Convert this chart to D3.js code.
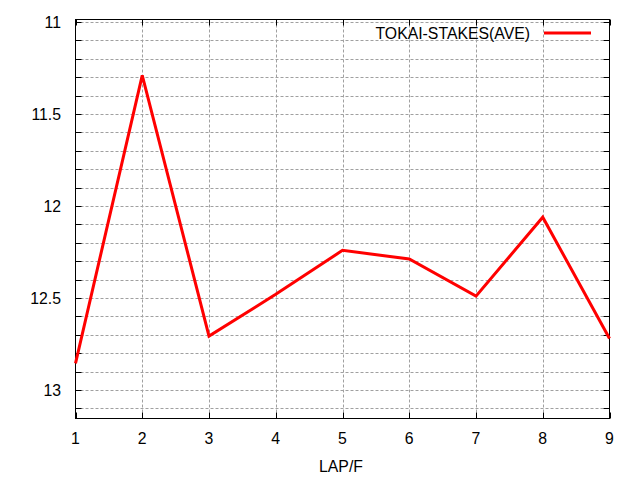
<!DOCTYPE html>
<html><head><meta charset="utf-8">
<script src="https://cdn.jsdelivr.net/npm/d3@7"></script>
<style>body{margin:0;background:#fff}svg{display:block}text{font-family:"Liberation Sans",Arial,sans-serif}</style>
</head><body><svg id="c" width="640" height="480"></svg>
<script>
const laps = [1,2,3,4,5,6,7,8,9];
const values = [12.855,11.29,12.707,12.48,12.241,12.288,12.49,12.061,12.72];
const seriesName = "TOKAI-STAKES(AVE)";
const xTicks = [1,2,3,4,5,6,7,8,9];
const yGrid = d3.range(110,132).map(v=>v/10);
const yLabels = [11,11.5,12,12.5,13];
const xTitle = "LAP/F";

const svg = d3.select("#c");
const L=75.5,R=609.5,T=19.5,B=418.5;
const x = d3.scaleLinear().domain([1,9]).range([L,R]);
const y = d3.scaleLinear().domain([11,13]).range([22,390]);
const fs = "15.8px";

// grid
const g = svg.append("g");
g.selectAll(".hg").data(yGrid.filter(v=>y(v)>T+1&&y(v)<B-1)).join("line")
 .attr("x1",L).attr("x2",R).attr("y1",d=>Math.round(y(d))+0.5).attr("y2",d=>Math.round(y(d))+0.5)
 .attr("stroke","#a0a0a0").attr("stroke-dasharray","3,2");
g.selectAll(".vg").data(xTicks.slice(1,-1)).join("line")
 .attr("x1",d=>Math.round(x(d))+0.5).attr("x2",d=>Math.round(x(d))+0.5).attr("y1",T).attr("y2",B)
 .attr("stroke","#a0a0a0").attr("stroke-dasharray","3,2");

// ticks
const tk = svg.append("g").attr("stroke","#000");
yGrid.filter(v=>y(v)>T+1&&y(v)<B-1).forEach(v=>{
  const yy=Math.round(y(v))+0.5;
  tk.append("line").attr("x1",L).attr("x2",L+6).attr("y1",yy).attr("y2",yy);
  tk.append("line").attr("x1",R).attr("x2",R-6).attr("y1",yy).attr("y2",yy);
});
xTicks.forEach(v=>{
  const xx=Math.round(x(v))+0.5;
  tk.append("line").attr("x1",xx).attr("x2",xx).attr("y1",B).attr("y2",B-6);
  tk.append("line").attr("x1",xx).attr("x2",xx).attr("y1",T).attr("y2",T+6);
});

// border
svg.append("rect").attr("x",L).attr("y",T).attr("width",R-L).attr("height",B-T)
 .attr("fill","none").attr("stroke","#000");

// labels
svg.selectAll(".yl").data(yLabels).join("text").attr("x",61).attr("y",d=>y(d))
 .attr("dy","0.36em").attr("text-anchor","end").attr("font-size",fs).text(d=>d);
svg.selectAll(".xl").data(xTicks).join("text").attr("x",d=>x(d)).attr("y",443.5)
 .attr("text-anchor","middle").attr("font-size",fs).text(d=>d);
svg.append("text").attr("x",341).attr("y",472).attr("text-anchor","middle").attr("font-size",fs).text(xTitle);

// line
svg.append("path").datum(laps.map((d,i)=>[d,values[i]]))
 .attr("d",d3.line().x(d=>x(d[0])).y(d=>y(d[1])))
 .attr("fill","none").attr("stroke","#ff0000").attr("stroke-width",3).attr("stroke-linejoin","miter");

// legend
svg.append("text").attr("x",530).attr("y",33).attr("dy","0.36em").attr("text-anchor","end")
 .attr("font-size",fs).text(seriesName);
svg.append("line").attr("x1",544).attr("x2",591).attr("y1",33).attr("y2",33)
 .attr("stroke","#ff0000").attr("stroke-width",3);
</script></body></html>
